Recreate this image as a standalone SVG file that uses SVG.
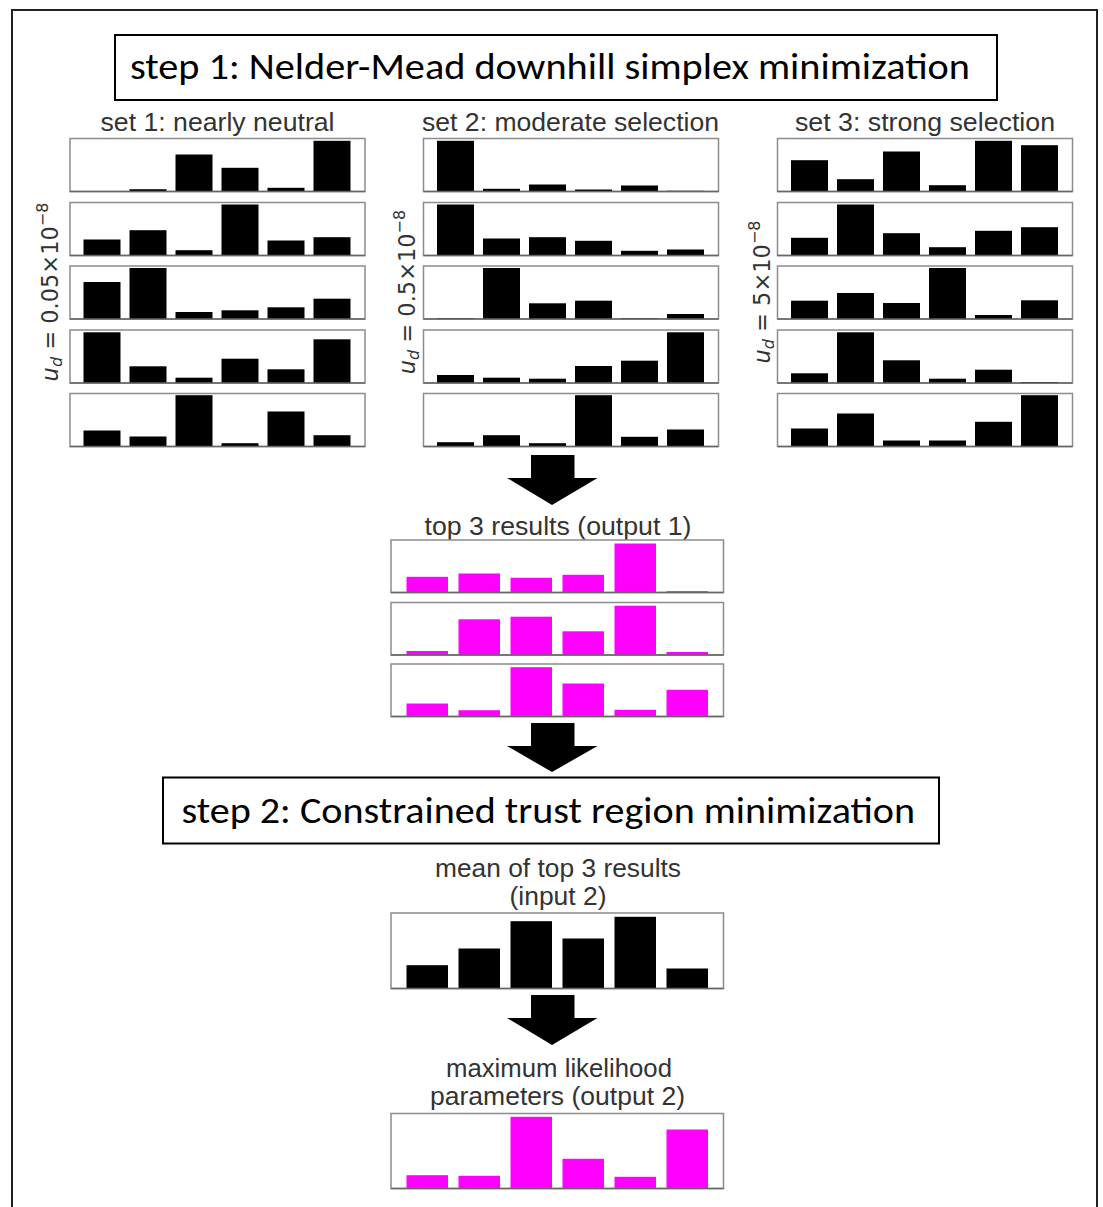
<svg xmlns="http://www.w3.org/2000/svg" width="1103" height="1207" viewBox="0 0 1103 1207">
<style>
.pn{fill:#fff;stroke:#8c8c8c;stroke-width:1.5}
.ax{stroke:#666;stroke-width:1.5}
.bk{fill:#000}
.mg{fill:#ff00ff}
.ttl{font-family:"Carlito","Liberation Sans Narrow","Liberation Sans",sans-serif;font-size:36px;fill:#000}
.tbox{fill:#fff;stroke:#000;stroke-width:2}
.lb{font-family:"Liberation Sans",Arial,sans-serif;font-size:26px;fill:#333;text-anchor:middle}
.yl{font-family:"DejaVu Sans",sans-serif;font-size:22.5px;fill:#333;text-anchor:middle}
.arr{fill:#000}
</style>
<defs>
<g id="sp"><rect class="pn" width="295" height="53"/></g>
<g id="bp"><rect class="pn" width="332.5" height="52.5"/></g>
</defs>
<rect x="0" y="0" width="1103" height="1207" fill="#fff"/>
<rect x="12" y="10" width="1085" height="1220" fill="none" stroke="#222" stroke-width="2"/>

<g id="step1">
<rect class="tbox" x="115" y="35" width="882" height="65"/>
<text class="ttl" x="130" y="79" textLength="840" lengthAdjust="spacingAndGlyphs">step 1: Nelder-Mead downhill simplex minimization</text>
</g>

<g id="set1">
<text class="lb" x="217.5" y="131" textLength="234" lengthAdjust="spacingAndGlyphs">set 1: nearly neutral</text>
<text class="yl" transform="translate(58,292) rotate(-90)"><tspan font-style="italic">u</tspan><tspan font-style="italic" font-size="16" dy="4">d</tspan><tspan dy="-4"> = 0.05×10</tspan><tspan font-size="16" dy="-10">−8</tspan></text>
<g transform="translate(70,138.5)"><use href="#sp"/><rect class="bk" x="59.5" y="50.7" width="37" height="2.3"/><rect class="bk" x="105.5" y="16" width="37" height="37"/><rect class="bk" x="151.5" y="29.3" width="37" height="23.7"/><rect class="bk" x="197.5" y="49.3" width="37" height="3.7"/><rect class="bk" x="243.5" y="2.3" width="37" height="50.7"/><line class="ax" x1="0" y1="53" x2="295" y2="53"/></g>
<g transform="translate(70,202.5)"><use href="#sp"/><rect class="bk" x="13.5" y="37" width="37" height="16"/><rect class="bk" x="59.5" y="27.7" width="37" height="25.3"/><rect class="bk" x="105.5" y="47.7" width="37" height="5.3"/><rect class="bk" x="151.5" y="2" width="37" height="51"/><rect class="bk" x="197.5" y="38" width="37" height="15"/><rect class="bk" x="243.5" y="34.7" width="37" height="18.3"/><line class="ax" x1="0" y1="53" x2="295" y2="53"/></g>
<g transform="translate(70,266)"><use href="#sp"/><rect class="bk" x="13.5" y="16" width="37" height="37"/><rect class="bk" x="59.5" y="2" width="37" height="51"/><rect class="bk" x="105.5" y="46" width="37" height="7"/><rect class="bk" x="151.5" y="44.3" width="37" height="8.7"/><rect class="bk" x="197.5" y="41.3" width="37" height="11.7"/><rect class="bk" x="243.5" y="32.7" width="37" height="20.3"/><line class="ax" x1="0" y1="53" x2="295" y2="53"/></g>
<g transform="translate(70,330)"><use href="#sp"/><rect class="bk" x="13.5" y="2.3" width="37" height="50.7"/><rect class="bk" x="59.5" y="36.3" width="37" height="16.7"/><rect class="bk" x="105.5" y="47.7" width="37" height="5.3"/><rect class="bk" x="151.5" y="28.7" width="37" height="24.3"/><rect class="bk" x="197.5" y="39.3" width="37" height="13.7"/><rect class="bk" x="243.5" y="9.3" width="37" height="43.7"/><line class="ax" x1="0" y1="53" x2="295" y2="53"/></g>
<g transform="translate(70,393.5)"><use href="#sp"/><rect class="bk" x="13.5" y="37" width="37" height="16"/><rect class="bk" x="59.5" y="43" width="37" height="10"/><rect class="bk" x="105.5" y="1.7" width="37" height="51.3"/><rect class="bk" x="151.5" y="49.7" width="37" height="3.3"/><rect class="bk" x="197.5" y="18" width="37" height="35"/><rect class="bk" x="243.5" y="41.7" width="37" height="11.3"/><line class="ax" x1="0" y1="53" x2="295" y2="53"/></g>
</g>

<g id="set2">
<text class="lb" x="570.5" y="131" textLength="297" lengthAdjust="spacingAndGlyphs">set 2: moderate selection</text>
<text class="yl" transform="translate(415,292) rotate(-90)"><tspan font-style="italic">u</tspan><tspan font-style="italic" font-size="16" dy="4">d</tspan><tspan dy="-4"> = 0.5×10</tspan><tspan font-size="16" dy="-10">−8</tspan></text>
<g transform="translate(423.5,138.5)"><use href="#sp"/><rect class="bk" x="13.5" y="2.3" width="37" height="50.7"/><rect class="bk" x="59.5" y="50.3" width="37" height="2.7"/><rect class="bk" x="105.5" y="46" width="37" height="7"/><rect class="bk" x="151.5" y="51" width="37" height="2"/><rect class="bk" x="197.5" y="47" width="37" height="6"/><rect class="bk" x="243.5" y="52.3" width="37" height="0.7"/><line class="ax" x1="0" y1="53" x2="295" y2="53"/></g>
<g transform="translate(423.5,202.5)"><use href="#sp"/><rect class="bk" x="13.5" y="2" width="37" height="51"/><rect class="bk" x="59.5" y="36" width="37" height="17"/><rect class="bk" x="105.5" y="34.7" width="37" height="18.3"/><rect class="bk" x="151.5" y="38.3" width="37" height="14.7"/><rect class="bk" x="197.5" y="48.3" width="37" height="4.7"/><rect class="bk" x="243.5" y="47" width="37" height="6"/><line class="ax" x1="0" y1="53" x2="295" y2="53"/></g>
<g transform="translate(423.5,266)"><use href="#sp"/><rect class="bk" x="13.5" y="52.3" width="37" height="0.7"/><rect class="bk" x="59.5" y="2" width="37" height="51"/><rect class="bk" x="105.5" y="37.3" width="37" height="15.7"/><rect class="bk" x="151.5" y="34.7" width="37" height="18.3"/><rect class="bk" x="197.5" y="52.3" width="37" height="0.7"/><rect class="bk" x="243.5" y="48" width="37" height="5"/><line class="ax" x1="0" y1="53" x2="295" y2="53"/></g>
<g transform="translate(423.5,330)"><use href="#sp"/><rect class="bk" x="13.5" y="45" width="37" height="8"/><rect class="bk" x="59.5" y="47.7" width="37" height="5.3"/><rect class="bk" x="105.5" y="48.7" width="37" height="4.3"/><rect class="bk" x="151.5" y="36" width="37" height="17"/><rect class="bk" x="197.5" y="30.7" width="37" height="22.3"/><rect class="bk" x="243.5" y="2.3" width="37" height="50.7"/><line class="ax" x1="0" y1="53" x2="295" y2="53"/></g>
<g transform="translate(423.5,393.5)"><use href="#sp"/><rect class="bk" x="13.5" y="48.7" width="37" height="4.3"/><rect class="bk" x="59.5" y="41.7" width="37" height="11.3"/><rect class="bk" x="105.5" y="49.7" width="37" height="3.3"/><rect class="bk" x="151.5" y="1.7" width="37" height="51.3"/><rect class="bk" x="197.5" y="43.3" width="37" height="9.7"/><rect class="bk" x="243.5" y="36" width="37" height="17"/><line class="ax" x1="0" y1="53" x2="295" y2="53"/></g>
</g>

<g id="set3">
<text class="lb" x="925" y="131" textLength="260" lengthAdjust="spacingAndGlyphs">set 3: strong selection</text>
<text class="yl" transform="translate(770,292) rotate(-90)"><tspan font-style="italic">u</tspan><tspan font-style="italic" font-size="16" dy="4">d</tspan><tspan dy="-4"> = 5×10</tspan><tspan font-size="16" dy="-10">−8</tspan></text>
<g transform="translate(777.5,138.5)"><use href="#sp"/><rect class="bk" x="13.5" y="21.7" width="37" height="31.3"/><rect class="bk" x="59.5" y="40.7" width="37" height="12.3"/><rect class="bk" x="105.5" y="13" width="37" height="40"/><rect class="bk" x="151.5" y="46.7" width="37" height="6.3"/><rect class="bk" x="197.5" y="2.3" width="37" height="50.7"/><rect class="bk" x="243.5" y="6.7" width="37" height="46.3"/><line class="ax" x1="0" y1="53" x2="295" y2="53"/></g>
<g transform="translate(777.5,202.5)"><use href="#sp"/><rect class="bk" x="13.5" y="35.3" width="37" height="17.7"/><rect class="bk" x="59.5" y="2" width="37" height="51"/><rect class="bk" x="105.5" y="30.7" width="37" height="22.3"/><rect class="bk" x="151.5" y="44.7" width="37" height="8.3"/><rect class="bk" x="197.5" y="28.3" width="37" height="24.7"/><rect class="bk" x="243.5" y="24.7" width="37" height="28.3"/><line class="ax" x1="0" y1="53" x2="295" y2="53"/></g>
<g transform="translate(777.5,266)"><use href="#sp"/><rect class="bk" x="13.5" y="34.7" width="37" height="18.3"/><rect class="bk" x="59.5" y="27" width="37" height="26"/><rect class="bk" x="105.5" y="37" width="37" height="16"/><rect class="bk" x="151.5" y="2" width="37" height="51"/><rect class="bk" x="197.5" y="49" width="37" height="4"/><rect class="bk" x="243.5" y="34.3" width="37" height="18.7"/><line class="ax" x1="0" y1="53" x2="295" y2="53"/></g>
<g transform="translate(777.5,330)"><use href="#sp"/><rect class="bk" x="13.5" y="43.3" width="37" height="9.7"/><rect class="bk" x="59.5" y="2.3" width="37" height="50.7"/><rect class="bk" x="105.5" y="30.3" width="37" height="22.7"/><rect class="bk" x="151.5" y="48.7" width="37" height="4.3"/><rect class="bk" x="197.5" y="39.7" width="37" height="13.3"/><rect class="bk" x="243.5" y="52" width="37" height="1"/><line class="ax" x1="0" y1="53" x2="295" y2="53"/></g>
<g transform="translate(777.5,393.5)"><use href="#sp"/><rect class="bk" x="13.5" y="35" width="37" height="18"/><rect class="bk" x="59.5" y="20" width="37" height="33"/><rect class="bk" x="105.5" y="47" width="37" height="6"/><rect class="bk" x="151.5" y="47" width="37" height="6"/><rect class="bk" x="197.5" y="28.3" width="37" height="24.7"/><rect class="bk" x="243.5" y="1.7" width="37" height="51.3"/><line class="ax" x1="0" y1="53" x2="295" y2="53"/></g>
</g>

<g id="output1">
<text class="lb" x="558" y="535" textLength="267" lengthAdjust="spacingAndGlyphs">top 3 results (output 1)</text>
<g transform="translate(391,540)"><use href="#bp"/><rect class="mg" x="15.5" y="36.8" width="41.5" height="15.7"/><rect class="mg" x="67.5" y="33.5" width="41.5" height="19"/><rect class="mg" x="119.5" y="37.8" width="41.5" height="14.7"/><rect class="mg" x="171.5" y="34.8" width="41.5" height="17.7"/><rect class="mg" x="223.5" y="3.5" width="41.5" height="49"/><rect class="mg" x="275.5" y="51.2" width="41.5" height="1.3"/><line class="ax" x1="0" y1="52.5" x2="332.5" y2="52.5"/></g>
<g transform="translate(391,602.5)"><use href="#bp"/><rect class="mg" x="15.5" y="48.5" width="41.5" height="4"/><rect class="mg" x="67.5" y="16.8" width="41.5" height="35.7"/><rect class="mg" x="119.5" y="14.2" width="41.5" height="38.3"/><rect class="mg" x="171.5" y="28.8" width="41.5" height="23.7"/><rect class="mg" x="223.5" y="3.2" width="41.5" height="49.3"/><rect class="mg" x="275.5" y="49.5" width="41.5" height="3"/><line class="ax" x1="0" y1="52.5" x2="332.5" y2="52.5"/></g>
<g transform="translate(391,664)"><use href="#bp"/><rect class="mg" x="15.5" y="39.5" width="41.5" height="13"/><rect class="mg" x="67.5" y="46.2" width="41.5" height="6.3"/><rect class="mg" x="119.5" y="3.2" width="41.5" height="49.3"/><rect class="mg" x="171.5" y="19.5" width="41.5" height="33"/><rect class="mg" x="223.5" y="45.8" width="41.5" height="6.7"/><rect class="mg" x="275.5" y="25.8" width="41.5" height="26.7"/><line class="ax" x1="0" y1="52.5" x2="332.5" y2="52.5"/></g>
</g>

<g id="step2">
<rect class="tbox" x="163" y="777.5" width="776" height="66"/>
<text class="ttl" x="181.5" y="823" font-size="35" textLength="733.5" lengthAdjust="spacingAndGlyphs">step 2: Constrained trust region minimization</text>
</g>

<g id="input2">
<text class="lb" x="558" y="877" textLength="246" lengthAdjust="spacingAndGlyphs">mean of top 3 results</text>
<text class="lb" x="558" y="905" textLength="97" lengthAdjust="spacingAndGlyphs">(input 2)</text>
<g transform="translate(391,913)"><rect class="pn" width="332.5" height="75.5"/><rect class="bk" x="15.5" y="52.2" width="41.5" height="23.3"/><rect class="bk" x="67.5" y="35.5" width="41.5" height="40"/><rect class="bk" x="119.5" y="8.2" width="41.5" height="67.3"/><rect class="bk" x="171.5" y="25.5" width="41.5" height="50"/><rect class="bk" x="223.5" y="3.8" width="41.5" height="71.7"/><rect class="bk" x="275.5" y="55.5" width="41.5" height="20"/><line class="ax" x1="0" y1="75.5" x2="332.5" y2="75.5"/></g>
</g>

<g id="output2">
<text class="lb" x="559" y="1077" textLength="226" lengthAdjust="spacingAndGlyphs">maximum likelihood</text>
<text class="lb" x="557.5" y="1105" textLength="255" lengthAdjust="spacingAndGlyphs">parameters (output 2)</text>
<g transform="translate(391,1113.5)"><rect class="pn" width="332.5" height="75"/><rect class="mg" x="15.5" y="61.7" width="41.5" height="13.3"/><rect class="mg" x="67.5" y="62.3" width="41.5" height="12.7"/><rect class="mg" x="119.5" y="3.3" width="41.5" height="71.7"/><rect class="mg" x="171.5" y="45.3" width="41.5" height="29.7"/><rect class="mg" x="223.5" y="63.3" width="41.5" height="11.7"/><rect class="mg" x="275.5" y="16" width="41.5" height="59"/><line class="ax" x1="0" y1="75" x2="332.5" y2="75"/></g>
</g>

<g id="connectors">
<polygon class="arr" points="531,455 574.5,455 574.5,478 597.5,478 552,505 507,478 531,478"/>
<polygon class="arr" points="531,723 574.5,723 574.5,746 597.5,746 552,772 507,746 531,746"/>
<polygon class="arr" points="531,995 574.5,995 574.5,1018 597.5,1018 552,1045 507,1018 531,1018"/>
</g>
</svg>
